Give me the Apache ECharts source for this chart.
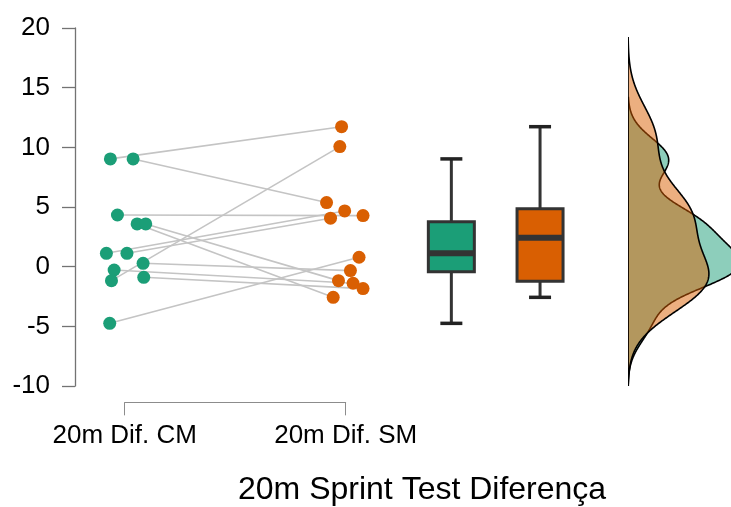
<!DOCTYPE html>
<html>
<head>
<meta charset="utf-8">
<script src="https://cdn.jsdelivr.net/npm/echarts@6/dist/echarts.min.js"></script>
<style>
html, body { margin: 0; padding: 0; background: #fff; }
#main { width: 731px; height: 507px; }
</style>
</head>
<body>
<div id="main"></div>
<script>
// data (pairs share the same index)
var categories = ['20m Dif. CM', '20m Dif. SM'];
var cmValues = [9.03, 9.03, 4.33, 3.58, 3.58, 1.12, 1.12, -0.28, 0.28, -1.17, -0.89, -4.75];
var smValues = [11.73, 5.37, 4.28, -2.57, -1.17, 4.67, 4.06, -1.39, -0.33, 10.06, -1.84, 0.79];
// horizontal jitter of each dot, in category units
var cmJitter = [-0.065, 0.038, -0.033, 0.056, 0.095, -0.083, 0.010, -0.048, 0.083, -0.060, 0.086, -0.068];
var smJitter = [-0.019, -0.087, 0.078, -0.057, -0.033, -0.005, -0.069, 0.033, 0.021, -0.027, 0.078, 0.060];
var yMin = -10, yMax = 20, yStep = 5;
var titleText = '20m Sprint Test Diferença';

var teal = '#1b9e77';
var orange = '#d95f02';
var font = '"Liberation Sans", Arial, sans-serif';

function quantile(arr, p) {
    var s = arr.slice().sort(function (a, b) { return a - b; });
    var h = (s.length - 1) * p;
    var lo = Math.floor(h);
    return s[lo] + (h - lo) * ((s[Math.min(lo + 1, s.length - 1)]) - s[lo]);
}
function boxStats(arr) {
    var q1 = quantile(arr, 0.25), q3 = quantile(arr, 0.75), iqr = q3 - q1;
    var inside = arr.filter(function (v) { return v >= q1 - 1.5 * iqr && v <= q3 + 1.5 * iqr; });
    return [Math.min.apply(null, inside), q1, quantile(arr, 0.5), q3, Math.max.apply(null, inside)];
}
// gaussian kde with R's bw.nrd0 and cut = 3
function kde(arr) {
    var n = arr.length;
    var mean = arr.reduce(function (a, b) { return a + b; }, 0) / n;
    var sd = Math.sqrt(arr.reduce(function (a, b) { return a + (b - mean) * (b - mean); }, 0) / (n - 1));
    var iqr = quantile(arr, 0.75) - quantile(arr, 0.25);
    var bw = 0.9 * Math.min(sd, iqr / 1.34) * Math.pow(n, -0.2);
    var lo = Math.min.apply(null, arr) - 3 * bw, hi = Math.max.apply(null, arr) + 3 * bw;
    var out = [];
    for (var i = 0; i < 512; i++) {
        var y = lo + (hi - lo) * i / 511;
        var d = 0;
        arr.forEach(function (v) {
            var z = (y - v) / bw;
            d += Math.exp(-0.5 * z * z);
        });
        out.push([d / (n * bw * Math.sqrt(2 * Math.PI)), y]);
    }
    return out;
}

var cmPoints = cmValues.map(function (v, i) { return [1 + cmJitter[i], v]; });
var smPoints = smValues.map(function (v, i) { return [2 + smJitter[i], v]; });
var pairLines = cmPoints.map(function (p, i) { return { coords: [p, smPoints[i]] }; });
var boxData = [[1].concat(boxStats(cmValues)), [2].concat(boxStats(smValues))];
var densities = [kde(cmValues), kde(smValues)];

function densitySeries(idx, color) {
    return {
        type: 'custom',
        xAxisIndex: 3,
        yAxisIndex: 3,
        clip: true,
        silent: true,
        z: 2 + idx,
        data: [[0, 0]],
        renderItem: function (params, api) {
            var dens = densities[idx];
            var pts = dens.map(function (p) { return api.coord(p); });
            pts.unshift(api.coord([0, dens[0][1]]));
            pts.push(api.coord([0, dens[dens.length - 1][1]]));
            return {
                type: 'polygon',
                shape: { points: pts },
                style: { fill: color, opacity: 1, stroke: '#000', lineWidth: 1.6 }
            };
        }
    };
}

var hiddenY = function (i) {
    return { type: 'value', gridIndex: i, min: yMin, max: yMax, show: false };
};

var option = {
    animation: false,
    backgroundColor: '#fff',
    title: {
        text: titleText,
        left: 238,
        top: 474,
        padding: 0,
        textStyle: { color: '#000', fontSize: 32, fontWeight: 'normal', fontFamily: font }
    },
    grid: [
        { left: 75, top: 28, width: 315, height: 358, outerBoundsMode: 'none' },
        { left: 124.7, top: 397, width: 221, height: 8, outerBoundsMode: 'none' },
        { left: 407, top: 28, width: 177.4, height: 358, outerBoundsMode: 'none' },
        { left: 628, top: 28, width: 103, height: 358, outerBoundsMode: 'none' }
    ],
    xAxis: [
        { type: 'value', gridIndex: 0, min: 0.775, max: 2.2, show: false },
        {
            type: 'category', gridIndex: 1, data: categories, boundaryGap: false,
            axisLine: { lineStyle: { color: '#8c8c8c', width: 1 } },
            axisTick: { length: 13, lineStyle: { color: '#8c8c8c' } },
            axisLabel: { color: '#000', fontSize: 26, fontFamily: font, margin: 18 },
            splitLine: { show: false }
        },
        { type: 'value', gridIndex: 2, min: 0.5, max: 2.5, show: false },
        { type: 'value', gridIndex: 3, min: 0, max: 0.1, show: false }
    ],
    yAxis: [
        {
            type: 'value', gridIndex: 0, min: yMin, max: yMax, interval: yStep,
            axisLine: { show: true, lineStyle: { color: '#737373', width: 1.3 } },
            axisTick: { show: true, length: 13, lineStyle: { color: '#737373', width: 1.3 } },
            axisLabel: { color: '#000', fontSize: 26, fontFamily: font, margin: 25 },
            splitLine: { show: false }
        },
        hiddenY(1),
        hiddenY(2),
        hiddenY(3)
    ],
    series: [
        {
            type: 'lines',
            coordinateSystem: 'cartesian2d',
            xAxisIndex: 0,
            yAxisIndex: 0,
            silent: true,
            z: 1,
            lineStyle: { color: '#c4c4c4', width: 1.6, opacity: 1 },
            data: pairLines
        },
        {
            type: 'scatter', xAxisIndex: 0, yAxisIndex: 0, z: 3,
            symbolSize: 13, itemStyle: { color: teal, opacity: 1 },
            data: cmPoints
        },
        {
            type: 'scatter', xAxisIndex: 0, yAxisIndex: 0, z: 3,
            symbolSize: 13, itemStyle: { color: orange, opacity: 1 },
            data: smPoints
        },
        {
            type: 'custom',
            xAxisIndex: 2,
            yAxisIndex: 2,
            silent: true,
            data: boxData,
            renderItem: function (params, api) {
                var x = api.value(0);
                var pMin = api.coord([x, api.value(1)]);
                var pQ1 = api.coord([x, api.value(2)]);
                var pMed = api.coord([x, api.value(3)]);
                var pQ3 = api.coord([x, api.value(4)]);
                var pMax = api.coord([x, api.value(5)]);
                var cx = pMin[0], bw = 46, cw = 22;
                var fill = params.dataIndex === 0 ? teal : orange;
                var dark = '#333333';
                return {
                    type: 'group',
                    children: [
                        { type: 'line', shape: { x1: cx, y1: pMax[1], x2: cx, y2: pMin[1] }, style: { stroke: dark, lineWidth: 3 } },
                        { type: 'line', shape: { x1: cx - cw / 2, y1: pMax[1], x2: cx + cw / 2, y2: pMax[1] }, style: { stroke: '#222', lineWidth: 3.5 } },
                        { type: 'line', shape: { x1: cx - cw / 2, y1: pMin[1], x2: cx + cw / 2, y2: pMin[1] }, style: { stroke: '#222', lineWidth: 3.5 } },
                        { type: 'rect', shape: { x: cx - bw / 2, y: pQ3[1], width: bw, height: pQ1[1] - pQ3[1] }, style: { fill: fill, stroke: dark, lineWidth: 3 } },
                        { type: 'line', shape: { x1: cx - bw / 2, y1: pMed[1], x2: cx + bw / 2, y2: pMed[1] }, style: { stroke: dark, lineWidth: 6 } }
                    ]
                };
            }
        },
        densitySeries(0, 'rgba(27,158,119,0.5)'),
        densitySeries(1, 'rgba(217,95,2,0.5)')
    ]
};

var myChart = echarts.init(document.getElementById('main'));
myChart.setOption(option);
</script>
</body>
</html>
